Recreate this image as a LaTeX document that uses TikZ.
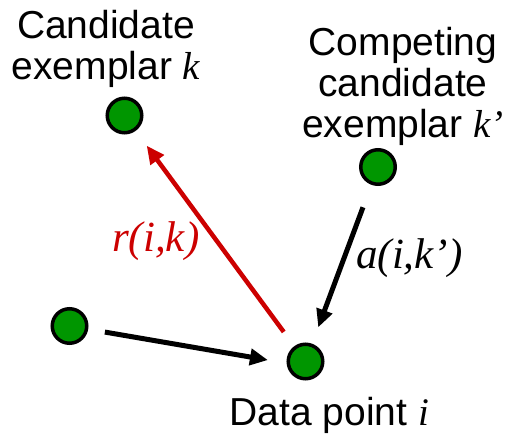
\documentclass[tikz,border=0pt]{standalone}
\usepackage{fontspec}
\setmainfont{Liberation Sans}
\newfontfamily\tnr{Liberation Serif}
\usetikzlibrary{arrows.meta}
\definecolor{dotgreen}{RGB}{0,150,0}
\definecolor{arrred}{RGB}{204,0,0}
\begin{document}
\begin{tikzpicture}[x=1bp,y=-1bp,
  dot/.style={circle,draw=black,line width=3.5bp,fill=dotgreen,minimum size=34.5bp,inner sep=0pt},
  lbl/.style={font=\fontsize{39bp}{41bp}\selectfont,align=center,inner sep=0pt},
  mathlbl/.style={font=\fontsize{43bp}{45bp}\selectfont\tnr\itshape,inner sep=0pt},
  link/.style={line width=5bp,-{Triangle[length=18bp,width=16bp]}}]
\useasboundingbox (0,0) rectangle (512,434);
\node[dot] (k) at (124.5,115.5) {};
\node[dot] (kp) at (378,167) {};
\node[dot] (i) at (305.5,361.5) {};
\node[dot] (j) at (69.5,326) {};
\node[lbl, anchor=base] (tk) at (106,80) {Candidate\\exemplar {\tnr\itshape k}};
\node[lbl, anchor=base] (tkp) at (403,138) {Competing\\candidate\\exemplar {\tnr\itshape k’}};
\node[lbl, anchor=base] (ti) at (329.5,425) {Data point {\tnr\itshape i}};
\draw[link, draw=arrred, fill=arrred, line width=4.5bp, shorten <=36.7bp, shorten >=37.4bp] (i.center) -- (k.center);
\draw[link, shorten <=43bp, shorten >=36.4bp] (kp.center) -- (i.center);
\draw[link, shorten <=35.9bp, shorten >=38.1bp] (j.center) -- ([yshift=-5bp]i.center);
\node[mathlbl, text=arrred, anchor=base west] (r) at (112,252) {r(i,k)};
\node[mathlbl, anchor=base west] (a) at (356,268) {a(i,k’)};
\end{tikzpicture}
\end{document}
